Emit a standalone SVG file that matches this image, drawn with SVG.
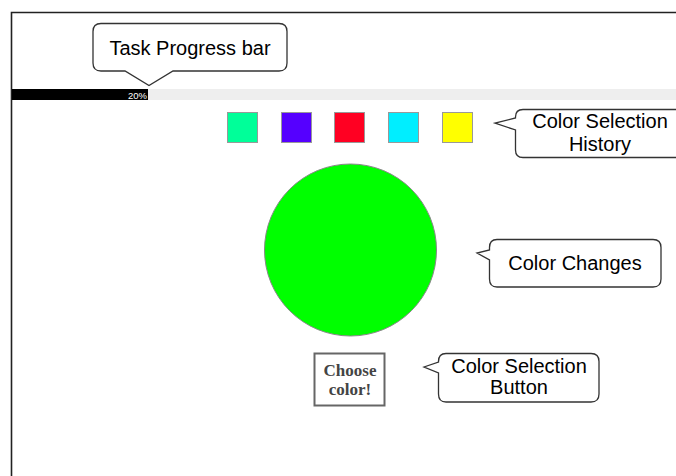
<svg xmlns="http://www.w3.org/2000/svg" width="676" height="476" viewBox="0 0 676 476">
<style>
.callout{fill:#fff;stroke:#333;stroke-width:1.3}
.ct{font-family:"Liberation Sans",Arial,sans-serif;font-size:20px;fill:#000;text-anchor:middle}
.sw{stroke:#999;stroke-width:1}
.bt{font-family:"Liberation Serif","Times New Roman",serif;font-size:17px;font-weight:bold;fill:#444;text-anchor:middle}
</style>
<rect width="676" height="476" fill="#fff"/>
<g id="frame">
<path d="M11.5 476 V12.5 H676" fill="none" stroke="#222" stroke-width="1.6"/>
</g>
<g id="progress">
<rect x="12" y="89" width="664" height="11" fill="#eeeeee"/>
<rect x="12" y="89" width="136" height="11" fill="#000"/>
<text x="147" y="98.5" font-family="Liberation Sans,Arial,sans-serif" font-size="9.5" fill="#fff" text-anchor="end">20%</text>
</g>
<g id="history">
<rect class="sw" x="227.5" y="112.5" width="30" height="30" fill="#00ff99"/>
<rect class="sw" x="281.5" y="112.5" width="30" height="30" fill="#5500ff"/>
<rect class="sw" x="334.5" y="112.5" width="30" height="30" fill="#ff0022"/>
<rect class="sw" x="388.5" y="112.5" width="30" height="30" fill="#00eeff"/>
<rect class="sw" x="442.5" y="112.5" width="30" height="30" fill="#ffff00"/>
</g>
<g id="circle">
<circle cx="350.5" cy="250" r="86" fill="#00ff00" stroke="#888" stroke-width="1"/>
</g>
<g id="button">
<rect x="314.5" y="353.5" width="70" height="52" fill="#fff" stroke="#666" stroke-width="2"/>
<text class="bt" x="350" y="376">Choose</text>
<text class="bt" x="350" y="395">color!</text>
</g>
<g id="callout-progress">
<path class="callout" d="M101 23.5 H279 Q287 23.5 287 31.5 V63 Q287 71 279 71 H173 L149 85.5 L125 71 H101 Q93 71 93 63 V31.5 Q93 23.5 101 23.5 Z"/>
<text class="ct" x="190" y="55">Task Progress bar</text>
</g>
<g id="callout-history">
<path class="callout" d="M523 109.5 H690 V157.5 H523 Q515.5 157.5 515.5 150 V130 L495 123 L515.5 118 V117 Q515.5 109.5 523 109.5 Z"/>
<text class="ct" x="600" y="128">Color Selection</text>
<text class="ct" x="600" y="151">History</text>
</g>
<g id="callout-changes">
<path class="callout" d="M497 239.5 H653 Q661 239.5 661 247.5 V279 Q661 287 653 287 H497 Q489.5 287 489.5 279 V260 L477 253 L489.5 250 V247.5 Q489.5 239.5 497 239.5 Z"/>
<text class="ct" x="575" y="270">Color Changes</text>
</g>
<g id="callout-button">
<path class="callout" d="M446 353.5 H591 Q599 353.5 599 361.5 V394 Q599 402 591 402 H446 Q438.5 402 438.5 394 V373 L424 367 L438.5 362 V361.5 Q438.5 353.5 446 353.5 Z"/>
<text class="ct" x="519" y="373">Color Selection</text>
<text class="ct" x="519" y="394">Button</text>
</g>
<g id="connectors"></g>
</svg>
